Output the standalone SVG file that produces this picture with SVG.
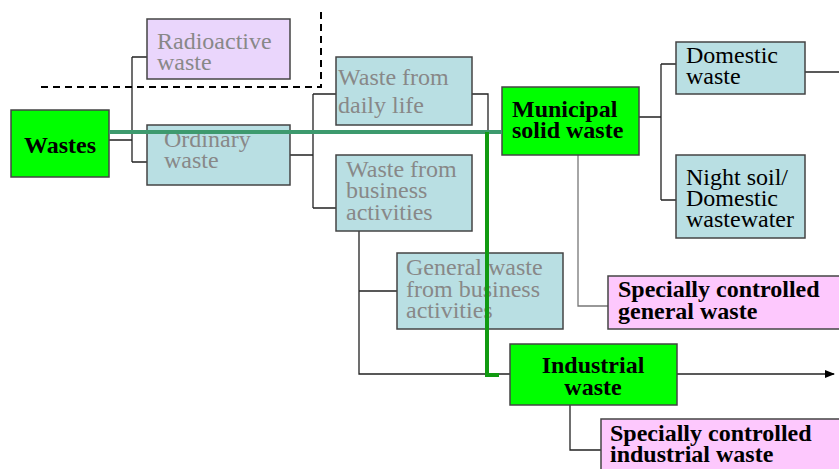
<svg xmlns="http://www.w3.org/2000/svg" width="839" height="469" viewBox="0 0 839 469">
<style>
.box{stroke:#444;stroke-width:1.5}
.blue{fill:#b9dfe3}
.lav{fill:#ead6fc}
.grn{fill:#00ff00}
.pink{fill:#fdc8fd}
.t{font-family:"Liberation Serif","Times New Roman",serif;font-size:24px}
.g{fill:#888}
.k{fill:#000}
.b{font-weight:bold;fill:#000}
.c{fill:none;stroke:#222;stroke-width:1.3}
.c2{fill:none;stroke:#777;stroke-width:1.3}
</style>
<defs>
<marker id="ah" markerWidth="10" markerHeight="8" refX="9" refY="4" orient="auto" markerUnits="userSpaceOnUse">
<path d="M0,0 L10,4 L0,8 z" fill="#000"/>
</marker>
</defs>
<g id="connectors">
<path class="c" d="M109,140 H132 M132,57 V162 M132,57 H147 M132,162 H147"/>
<path class="c" d="M290,155 H313 M313,94 V208 M313,94 H336 M313,208 H336"/>
<path class="c" d="M472,94 H488 V132"/>
<path class="c" d="M639,117 H661 M661,64 V200 M661,64 H676 M661,200 H676"/>
<path class="c" d="M805,72 H839"/>
<path class="c2" d="M578,155 V306 H608"/>
<path class="c" d="M359,231 V374 H510 M359,291 H397"/>
<path class="c" d="M677,374 H834" marker-end="url(#ah)"/>
<path class="c" d="M570,405 V450 H601"/>
<path d="M41,87 H321 V12" fill="none" stroke="#000" stroke-width="2" stroke-dasharray="7,5"/>
</g>
<g id="wastes"><rect class="box grn" x="11" y="110" width="98" height="67"/><text class="t b" x="24" y="153">Wastes</text></g>
<g id="radioactive"><rect class="box lav" x="147" y="19" width="143" height="60"/><text class="t g" x="157" y="49">Radioactive</text><text class="t g" x="157" y="70">waste</text></g>
<g id="ordinary"><rect class="box blue" x="147" y="125" width="143" height="60"/><text class="t g" x="164" y="147">Ordinary</text><text class="t g" x="164" y="168">waste</text></g>
<g id="daily"><rect class="box blue" x="336" y="57" width="136" height="68"/><text class="t g" x="338" y="85">Waste from</text><text class="t g" x="338" y="113">daily life</text></g>
<g id="business"><rect class="box blue" x="336" y="155" width="136" height="76"/><text class="t g" x="346" y="177">Waste from</text><text class="t g" x="346" y="198">business</text><text class="t g" x="346" y="220">activities</text></g>
<g id="general"><rect class="box blue" x="397" y="253" width="166" height="76"/><text class="t g" x="406" y="275">General waste</text><text class="t g" x="406" y="297">from business</text><text class="t g" x="406" y="318">activities</text></g>
<g id="municipal"><rect class="box grn" x="502" y="87" width="137" height="68"/><text class="t b" x="512" y="117">Municipal</text><text class="t b" x="512" y="138">solid waste</text></g>
<g id="domestic"><rect class="box blue" x="676" y="42" width="129" height="52"/><text class="t k" x="686" y="63">Domestic</text><text class="t k" x="686" y="84">waste</text></g>
<g id="nightsoil"><rect class="box blue" x="676" y="155" width="129" height="83"/><text class="t k" x="686" y="185">Night soil/</text><text class="t k" x="686" y="206">Domestic</text><text class="t k" x="686" y="227">wastewater</text></g>
<g id="specgeneral"><rect class="box pink" x="608" y="276" width="240" height="53"/><text class="t b" x="618" y="297">Specially controlled</text><text class="t b" x="618" y="319">general waste</text></g>
<g id="industrial"><rect class="box grn" x="510" y="344" width="167" height="61"/><text class="t b" x="593" y="373" text-anchor="middle">Industrial</text><text class="t b" x="593" y="395" text-anchor="middle">waste</text></g>
<g id="specindustrial"><rect class="box pink" x="601" y="419" width="250" height="60"/><text class="t b" x="610" y="441">Specially controlled</text><text class="t b" x="610" y="462">industrial waste</text></g>
<g id="green-route">
<path d="M109,132 H502" fill="none" stroke="#3d9a6e" stroke-width="4"/>
<path d="M487,132 V375 H499" fill="none" stroke="#119a11" stroke-width="4"/>
</g>
</svg>
